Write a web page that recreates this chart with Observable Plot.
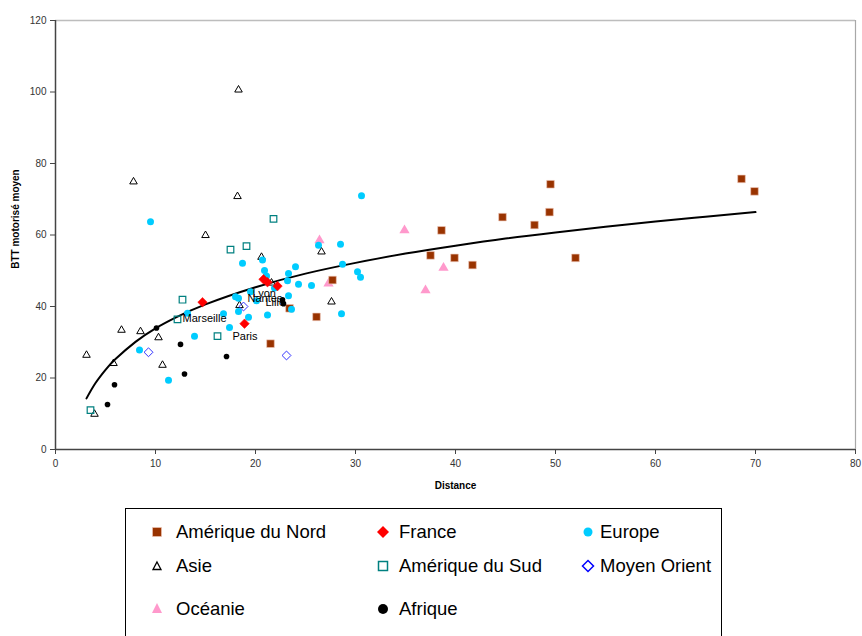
<!DOCTYPE html>
<html>
<head>
<meta charset="utf-8">
<script src="https://cdn.jsdelivr.net/npm/d3@7"></script>
<script src="https://cdn.jsdelivr.net/npm/@observablehq/plot@0.6"></script>
<style>
  body { margin: 0; background: #fff; font-family: "Liberation Sans", Arial, sans-serif; }
  #wrap { position: relative; width: 862px; height: 636px; overflow: hidden; }
  #legend { position: absolute; left: 125px; top: 508px; width: 597px; height: 140px; border: 1px solid #000; box-sizing: border-box; }
  .item { position: absolute; font-size: 18.5px; color: #000; white-space: nowrap; line-height: 20px; }
  .item svg { position: absolute; }
</style>
</head>
<body>
<div id="wrap"><div id="chart"></div><div id="legend"></div></div>
<script>
// ---- data (Distance, BTT motorisé moyen) ----
const ameriqueNord = [[49.5,74.2],[49.4,66.4],[44.7,65.0],[47.9,62.8],[38.6,61.3],[37.5,54.3],[39.9,53.6],[41.7,51.6],[52.0,53.6],[27.7,47.4],[26.1,37.1],[68.6,75.7],[69.9,72.2],[21.5,29.6],[23.4,39.5]];
const france = [[14.7,41.2],[18.9,35.2],[20.8,47.6],[21.2,46.8],[22.2,45.7]];
const europe = [[9.5,63.7],[30.6,71.0],[28.5,57.4],[26.3,57.1],[28.7,51.8],[30.2,49.7],[30.5,48.2],[25.6,45.9],[28.6,38.0],[24.0,51.1],[23.3,49.2],[24.3,46.2],[23.2,47.2],[20.9,50.1],[21.1,48.5],[18.7,52.1],[20.7,53.0],[18.0,42.7],[18.3,42.3],[23.3,43.0],[20.1,41.6],[19.5,44.1],[23.6,39.2],[18.3,38.6],[19.3,37.0],[21.2,37.6],[17.4,34.1],[16.8,38.0],[13.9,31.7],[8.4,27.8],[11.3,19.4],[13.2,38.1],[21.9,45.2]];
const asie = [[18.3,100.6],[7.8,74.9],[18.2,70.8],[15.0,59.9],[20.6,53.8],[26.6,55.3],[27.6,41.3],[18.4,40.3],[21.6,46.6],[10.3,31.3],[10.7,23.6],[3.1,26.4],[3.9,9.9],[5.8,24.1],[6.6,33.4],[8.5,33.0]];
const ameriqueSud = [[21.8,64.5],[19.1,56.9],[17.5,55.9],[12.7,41.9],[12.2,36.4],[16.2,31.7],[3.5,11.0]];
const moyenOrient = [[9.3,27.2],[18.8,40.0],[23.1,26.3]];
const oceanie = [[26.4,58.5],[34.9,61.3],[38.8,50.8],[37.0,44.5],[27.3,46.4]];
const afrique = [[10.1,34.0],[12.5,29.4],[12.9,21.1],[5.9,18.1],[5.2,12.6],[17.1,26.0],[22.7,41.9],[22.8,40.8]];
// city data labels
const villes = ["Lyon","Nantes","Lille","Marseille","Paris"];
const villesX = [19.7,19.2,21.0,12.7,17.7];
const villesY = [43.6,42.2,41.1,36.6,31.6];
// trend curve
const trendX = [3.1,4,5,6,8,10,12,15,20,25,30,35,40,45,50,55,60,65,70];
const trendY = [14.3,18.6,22.3,25.3,30.1,33.9,36.9,40.6,45.4,49.2,52.2,54.8,57.0,59.0,60.7,62.3,63.8,65.1,66.4];
// axis ticks
const xTicks = [0,10,20,30,40,50,60,70,80];
const yTicks = [0,20,40,60,80,100,120];

const trend = trendX.map((x,i) => ({x, y: trendY[i]}));
const labels = villes.map((t,i) => ({t, x: villesX[i], y: villesY[i]}));

const font = '"Liberation Sans", Arial, sans-serif';
const chart = Plot.plot({
  width: 862, height: 505,
  marginLeft: 55, marginRight: 7, marginTop: 20, marginBottom: 56,
  style: {fontFamily: font, fontSize: "10px", background: "#fff", color: "#333"},
  x: {domain: [0, 80], ticks: xTicks, label: null},
  y: {domain: [0, 120], ticks: yTicks, label: null},
  marks: [
    Plot.ruleY([120], {stroke: "#bdbdbd", strokeWidth: 1.5}),
    Plot.ruleX([80], {stroke: "#a8a8a8", strokeWidth: 1.2}),
    Plot.axisX({ticks: xTicks, tickSize: 5, tickPadding: 5, stroke: "#444", fill: "#333", label: null}),
    Plot.axisY({ticks: yTicks, tickSize: 5, tickPadding: 4, stroke: "#444", fill: "#333", label: null}),
    Plot.ruleX([0], {stroke: "#444", strokeWidth: 1.5}),
    Plot.ruleY([0], {stroke: "#444", strokeWidth: 1.5}),
    Plot.text(["Distance"], {frameAnchor: "bottom", lineAnchor: "middle", dy: 36, fontWeight: "bold", fontSize: 10, fill: "#000"}),
    Plot.text(["BTT motorisé moyen"], {frameAnchor: "left", textAnchor: "middle", lineAnchor: "middle", dx: -40, dy: -16, rotate: -90, fontWeight: "bold", fontSize: 10, fill: "#000"}),
    Plot.line(trend, {x: "x", y: "y", stroke: "#000", strokeWidth: 2, curve: "natural"}),
    Plot.dot(asie, {x: d => d[0], y: d => d[1], symbol: "triangle2", r: 3.6, stroke: "#000", strokeWidth: 1, fill: "none"}),
    Plot.dot(ameriqueSud, {x: d => d[0], y: d => d[1], symbol: "square2", r: 4.2, stroke: "#008080", strokeWidth: 1.2, fill: "none"}),
    Plot.dot(moyenOrient, {x: d => d[0], y: d => d[1], symbol: "diamond2", r: 4, stroke: "#3333ff", strokeWidth: 1, fill: "none"}),
    Plot.dot(oceanie, {x: d => d[0], y: d => d[1], symbol: "triangle", r: 3.8, fill: "#ff99cc", stroke: "none"}),
    Plot.dot(ameriqueNord, {x: d => d[0], y: d => d[1], symbol: "square", r: 4.3, fill: "#993300", stroke: "#f0c8b8", strokeWidth: 0.6}),
    Plot.dot(europe, {x: d => d[0], y: d => d[1], symbol: "circle", r: 3.5, fill: "#00ccff", stroke: "none"}),
    Plot.dot(afrique, {x: d => d[0], y: d => d[1], symbol: "circle", r: 2.8, fill: "#000", stroke: "none"}),
    Plot.dot(france, {x: d => d[0], y: d => d[1], symbol: "diamond2", r: 4.3, fill: "#ff0000", stroke: "#ff0000", strokeWidth: 0.5}),
    Plot.text(labels, {x: "x", y: "y", text: "t", textAnchor: "start", lineAnchor: "middle", fontSize: 11, fill: "#000"})
  ]
});
document.getElementById("chart").appendChild(chart);

// legend
const legendItems = [
  {name: "Amérique du Nord", col: 0, row: 0, m: "sq"},
  {name: "France", col: 1, row: 0, m: "dia"},
  {name: "Europe", col: 2, row: 0, m: "circ"},
  {name: "Asie", col: 0, row: 1, m: "tri"},
  {name: "Amérique du Sud", col: 1, row: 1, m: "osq"},
  {name: "Moyen Orient", col: 2, row: 1, m: "odia"},
  {name: "Océanie", col: 0, row: 2, m: "ptri"},
  {name: "Afrique", col: 1, row: 2, m: "bcirc"}
];
const colX = [176, 399, 600];   // text start (page coords)
const mkX = [157, 383, 588];    // marker centre
const rowY = [532, 566, 609];
const markerSvg = {
  sq: '<rect x="3.5" y="3.5" width="9" height="9" fill="#993300" stroke="#f0c8b8" stroke-width="0.6"/>',
  dia: '<path d="M8 2 L14 8 L8 14 L2 8 Z" fill="#ff0000"/>',
  circ: '<circle cx="8" cy="8" r="4.5" fill="#00ccff"/>',
  tri: '<path d="M8 4 L12 11.5 L4 11.5 Z" fill="none" stroke="#000" stroke-width="1.3"/>',
  osq: '<rect x="3.5" y="3.5" width="9" height="9" fill="none" stroke="#008080" stroke-width="1.5"/>',
  odia: '<path d="M8 2.5 L13.5 8 L8 13.5 L2.5 8 Z" fill="none" stroke="#0000ff" stroke-width="1.5"/>',
  ptri: '<path d="M8 2 L13 12 L3 12 Z" fill="#ff99cc"/>',
  bcirc: '<circle cx="8" cy="8" r="5" fill="#000"/>'
};
const leg = document.getElementById("legend");
legendItems.forEach(it => {
  const mk = document.createElement("div");
  mk.className = "item";
  mk.style.left = (mkX[it.col] - 8 - 126) + "px";
  mk.style.top = (rowY[it.row] - 8 - 509) + "px";
  mk.innerHTML = '<svg width="16" height="16" viewBox="0 0 16 16">' + markerSvg[it.m] + '</svg>';
  leg.appendChild(mk);
  const tx = document.createElement("div");
  tx.className = "item";
  tx.textContent = it.name;
  tx.style.left = (colX[it.col] - 126) + "px";
  tx.style.top = (rowY[it.row] - 10 - 509) + "px";
  leg.appendChild(tx);
});
</script>
</body>
</html>
